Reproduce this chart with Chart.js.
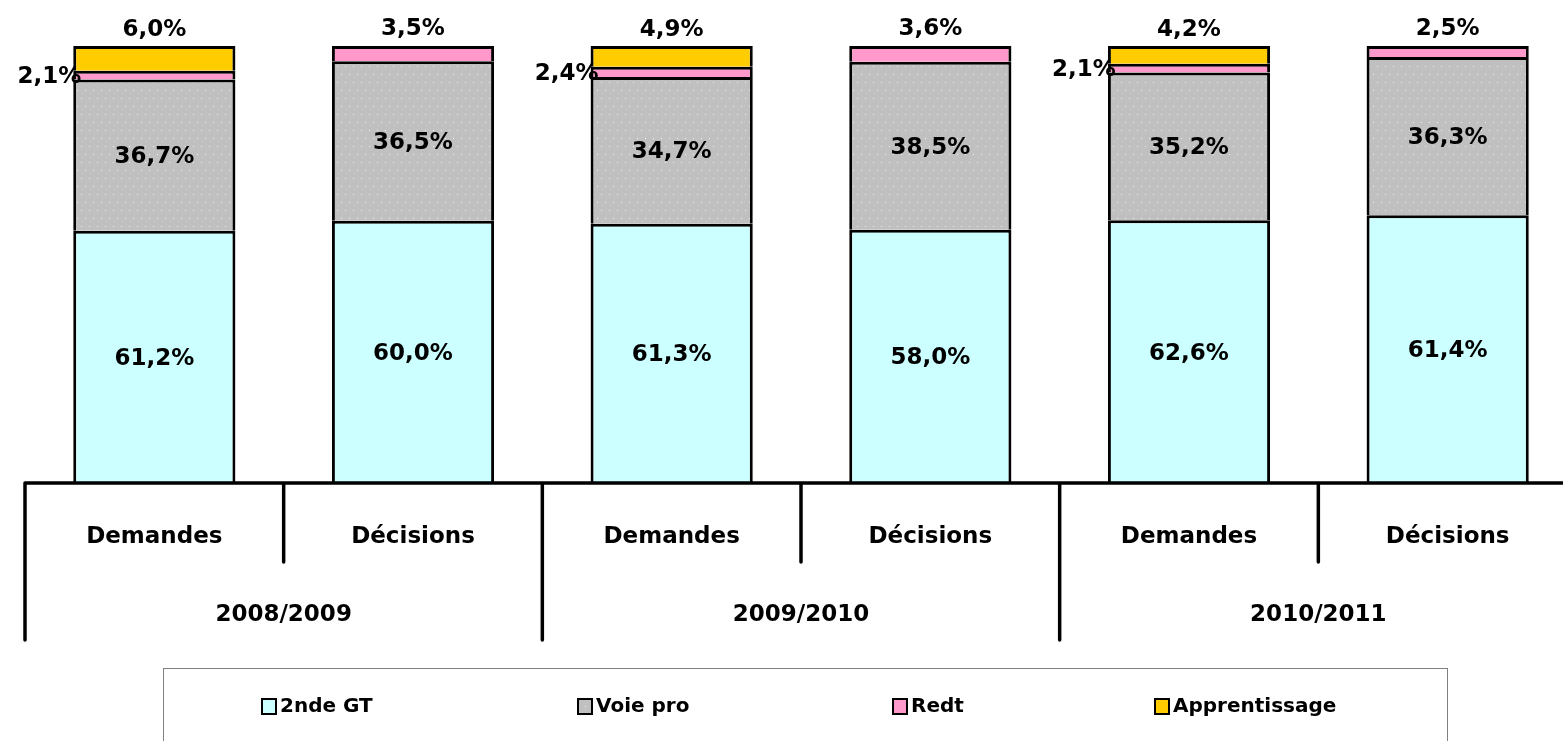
<!DOCTYPE html>
<html>
<head>
<meta charset="utf-8">
<script src="https://cdn.jsdelivr.net/npm/chart.js@4.4.1/dist/chart.umd.min.js"></script>
<style>
  html, body { margin: 0; padding: 0; background: #fff; overflow: hidden; }
  #wrap { width: 1580px; height: 741px; }
</style>
</head>
<body>
<div id="wrap"><canvas id="c" width="1580" height="741"></canvas></div>
<script>
const periods = ["2008/2009", "2009/2010", "2010/2011"];
const categories = ["Demandes", "Décisions", "Demandes", "Décisions", "Demandes", "Décisions"];

const seconde = [61.2, 60.0, 61.3, 58.0, 62.6, 61.4];
const voiePro = [36.7, 36.5, 34.7, 38.5, 35.2, 36.3];
const redt    = [2.1, 3.5, 2.4, 3.6, 2.1, 2.5];
const apprent = [6.0, null, 4.9, null, 4.2, null];

const FONT = "'DejaVu Sans', sans-serif";
const fr = v => v.toFixed(1).replace(".", ",") + "%";

// totals for the 100% stack
const totals = categories.map((_, i) => seconde[i] + voiePro[i] + redt[i] + (apprent[i] || 0));
const share = arr => arr.map((v, i) => v == null ? null : v / totals[i] * 100);

// dotted grey fill for "Voie pro"
function dotPattern() {
  const p = document.createElement("canvas");
  p.width = 8; p.height = 16;
  const g = p.getContext("2d");
  g.fillStyle = "#c0c0c0";
  g.fillRect(0, 0, 8, 16);
  g.fillStyle = "#f2f2f2";
  g.fillRect(1, 2, 1, 1);
  g.fillRect(5, 10, 1, 1);
  return document.getElementById("c").getContext("2d").createPattern(p, "repeat");
}
const grey = dotPattern();

const series = [
  {label: "2nde GT", raw: seconde, color: "#ccffff"},
  {label: "Voie pro", raw: voiePro, color: grey},
  {label: "Redt", raw: redt, color: "#ff99cc"},
  {label: "Apprentissage", raw: apprent, color: "#ffcc00"},
];

const labelPlugin = {
  id: "labels",
  afterDatasetsDraw(chart) {
    const ctx = chart.ctx;
    ctx.save();
    ctx.fillStyle = "#000";
    ctx.font = "bold 23px " + FONT;
    ctx.textBaseline = "middle";
    series.forEach((s, di) => {
      const meta = chart.getDatasetMeta(di);
      meta.data.forEach((bar, i) => {
        const v = s.raw[i];
        if (v == null) return;
        const top = bar.y, bottom = bar.base;
        const left = bar.x - bar.width / 2;
        if (di < 2) {
          ctx.textAlign = "center";
          ctx.fillText(fr(v), bar.x, (top + bottom) / 2 + 2);
        } else if (di === 3) {
          ctx.textAlign = "center";
          ctx.fillText(fr(v), bar.x, top - 16);
        } else if (apprent[i] != null) {
          ctx.textAlign = "right";
          ctx.fillText(fr(v), left + 8, (top + bottom) / 2 + 2);
        } else {
          ctx.textAlign = "center";
          ctx.fillText(fr(v), bar.x, top - 17);
        }
      });
    });
    ctx.restore();
  }
};

const axisPlugin = {
  id: "axis",
  afterDraw(chart) {
    const ctx = chart.ctx;
    const x = chart.scales.x, area = chart.chartArea;
    const y0 = area.bottom;
    const step = x.getPixelForValue(1) - x.getPixelForValue(0);
    ctx.save();
    ctx.strokeStyle = "#000";
    ctx.lineWidth = 3.5;
    ctx.lineCap = "round";
    ctx.beginPath();
    ctx.moveTo(area.left, y0);
    ctx.lineTo(chart.width, y0);
    for (let i = 0; i <= categories.length; i++) {
      const px = x.getPixelForValue(i) - step / 2;
      ctx.moveTo(px, y0);
      ctx.lineTo(px, i % 2 === 0 ? y0 + 157 : y0 + 79);
    }
    ctx.stroke();
    ctx.fillStyle = "#000";
    ctx.font = "bold 23px " + FONT;
    ctx.textAlign = "center";
    ctx.textBaseline = "middle";
    categories.forEach((c, i) => ctx.fillText(c, x.getPixelForValue(i), y0 + 54));
    periods.forEach((p, g) => {
      const cx = (x.getPixelForValue(g * 2) + x.getPixelForValue(g * 2 + 1)) / 2;
      ctx.fillText(p, cx, y0 + 132);
    });

    // legend box
    ctx.lineWidth = 1;
    ctx.strokeStyle = "#808080";
    ctx.strokeRect(163.5, 668.5, 1284, 90);
    const pos = [262, 578, 893, 1155];
    ctx.font = "bold 20px " + FONT;
    ctx.textAlign = "left";
    series.forEach((s, k) => {
      ctx.fillStyle = s.color;
      ctx.fillRect(pos[k], 699, 14, 15);
      ctx.lineWidth = 2;
      ctx.strokeStyle = "#000";
      ctx.strokeRect(pos[k], 699, 14, 15);
      ctx.fillStyle = "#000";
      ctx.fillText(s.label, pos[k] + 18, 707);
    });
    ctx.restore();
  }
};

new Chart(document.getElementById("c"), {
  type: "bar",
  data: {
    labels: categories,
    datasets: series.map(s => ({
      label: s.label,
      data: share(s.raw),
      backgroundColor: s.color,
      borderColor: "#000",
      borderWidth: 3,
      categoryPercentage: 1,
      barPercentage: 0.627,
    })),
  },
  options: {
    responsive: false,
    animation: false,
    layout: {padding: {left: 25, right: 3, top: 46, bottom: 258}},
    plugins: {legend: {display: false}, tooltip: {enabled: false}},
    scales: {
      x: {stacked: true, display: false},
      y: {stacked: true, display: false, min: 0, max: 100},
    },
  },
  plugins: [labelPlugin, axisPlugin],
});
</script>
</body>
</html>
